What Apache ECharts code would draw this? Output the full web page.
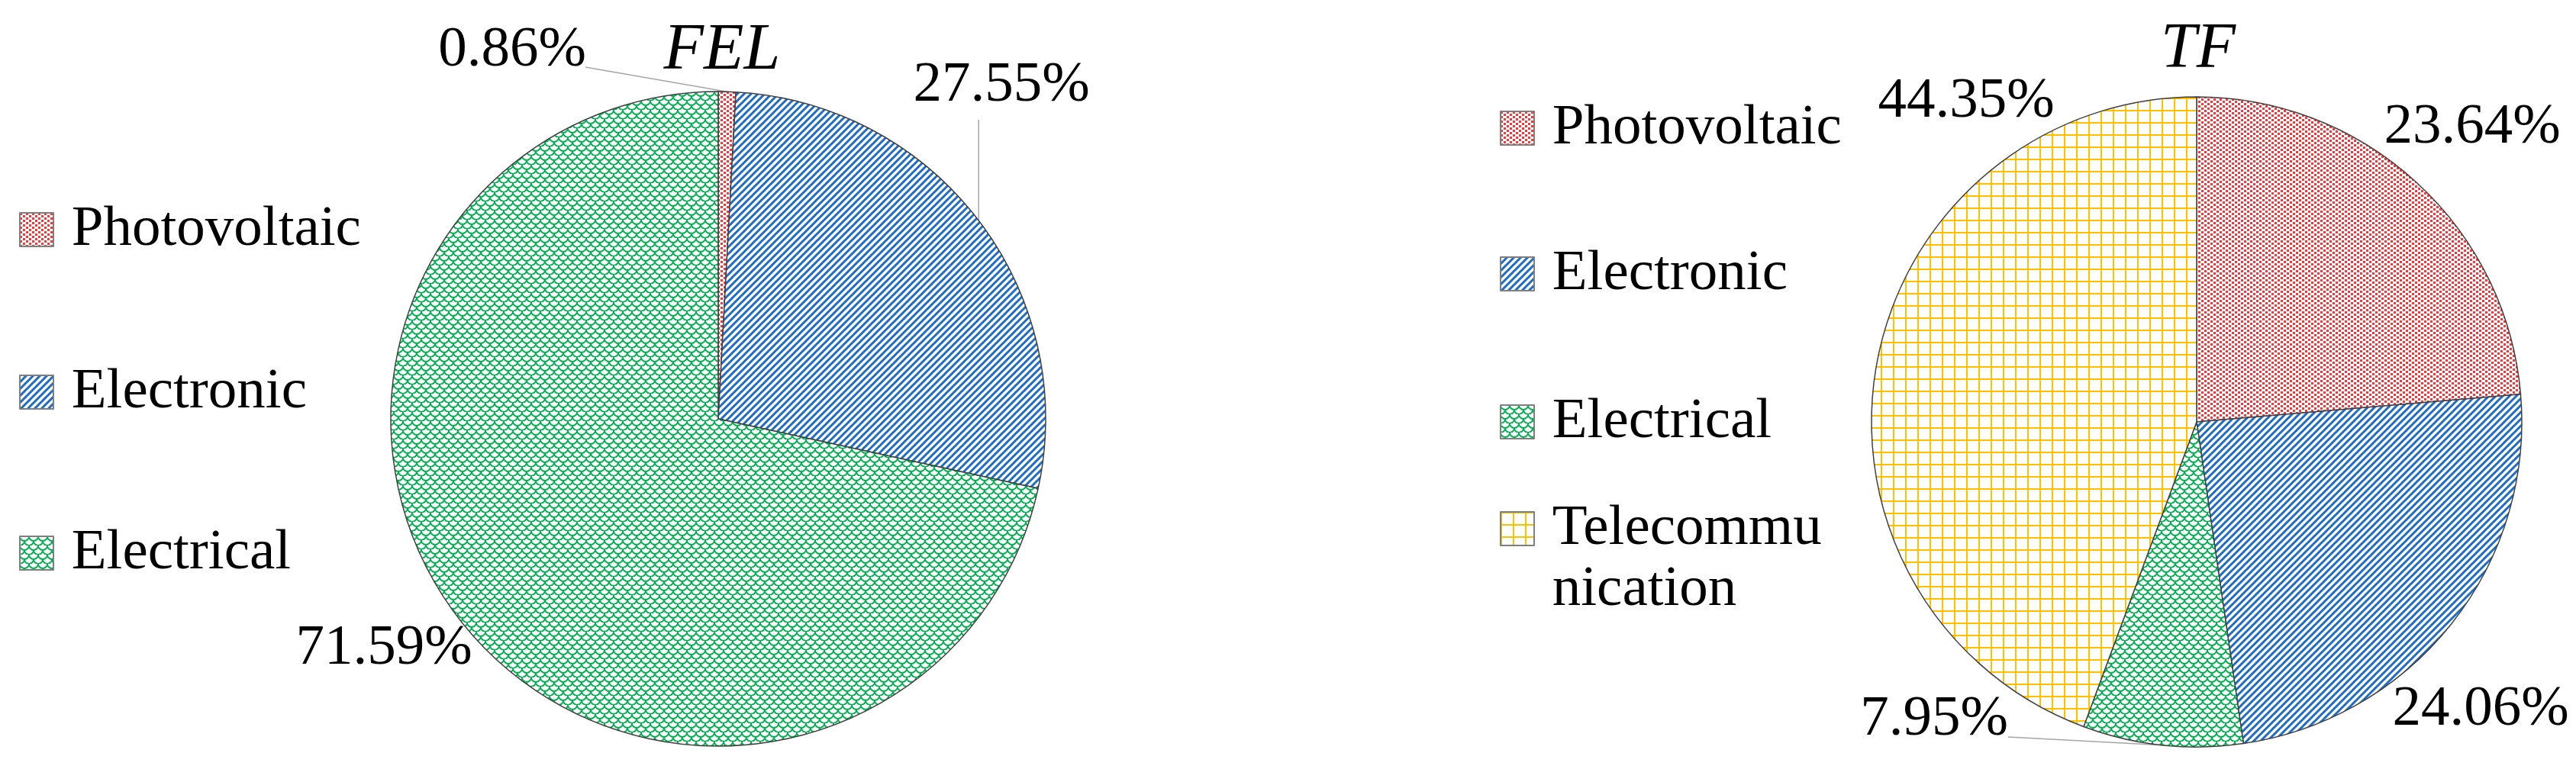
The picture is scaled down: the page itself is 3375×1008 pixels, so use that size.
<!DOCTYPE html>
<html>
<head>
<meta charset="utf-8">
<script src="https://cdn.jsdelivr.net/npm/echarts@6/dist/echarts.min.js"></script>
<style>
html,body{margin:0;padding:0;background:#fff;}
#chart{width:3375px;height:1008px;}
</style>
</head>
<body>
<div id="chart"></div>
<script>
// FEL pie (percent shares)
const felNames = ['Photovoltaic', 'Electronic', 'Electrical'];
const felValues = [0.86, 27.55, 71.59];
// TF pie (percent shares)
const tfNames = ['Photovoltaic', 'Electronic', 'Electrical', 'Telecommunication'];
const tfValues = [23.64, 24.06, 7.95, 44.35];

const FONT = '"Liberation Serif", "Times New Roman", serif';

// hatch fills like the office chart patterns
function makePattern(kind) {
  const c = document.createElement('canvas');
  let ctx;
  if (kind === 'dots') {
    c.width = 8; c.height = 6;
    ctx = c.getContext('2d');
    ctx.fillStyle = '#fff'; ctx.fillRect(0, 0, 8, 6);
    ctx.fillStyle = '#ff3333';
    ctx.fillRect(0, 0, 3, 3);
    ctx.fillRect(4, 3, 3, 3);
  } else if (kind === 'stripes') {
    const T = 9;
    c.width = T; c.height = T;
    ctx = c.getContext('2d');
    ctx.fillStyle = '#fff'; ctx.fillRect(0, 0, T, T);
    ctx.strokeStyle = '#1a6cc8'; ctx.lineWidth = 3;
    ctx.beginPath();
    ctx.moveTo(-2, T + 2); ctx.lineTo(T + 2, -2);
    ctx.moveTo(-2, 2); ctx.lineTo(2, -2);
    ctx.moveTo(T - 2, T + 2); ctx.lineTo(T + 2, T - 2);
    ctx.stroke();
  } else if (kind === 'scales') {
    c.width = 12; c.height = 12;
    ctx = c.getContext('2d');
    ctx.fillStyle = '#fff'; ctx.fillRect(0, 0, 12, 12);
    ctx.strokeStyle = '#00b050'; ctx.lineWidth = 1.8;
    ctx.beginPath(); ctx.arc(6, 0, 6, 0, Math.PI); ctx.stroke();
    ctx.beginPath(); ctx.arc(0, 6, 6, 0, Math.PI); ctx.stroke();
    ctx.beginPath(); ctx.arc(12, 6, 6, 0, Math.PI); ctx.stroke();
  } else {
    c.width = 16; c.height = 16;
    ctx = c.getContext('2d');
    ctx.fillStyle = '#fff'; ctx.fillRect(0, 0, 16, 16);
    ctx.fillStyle = '#ffc000';
    ctx.fillRect(0, 0, 16, 2);
    ctx.fillRect(0, 0, 2, 16);
  }
  return { image: c, repeat: 'repeat' };
}

const fills = {
  'Photovoltaic': makePattern('dots'),
  'Electronic': makePattern('stripes'),
  'Electrical': makePattern('scales'),
  'Telecommunication': makePattern('grid')
};

// label centres and label-line ends (page pixels)
const felLabelPos = [[671, 66], [1312, 112], [503, 850]];
const felLineEnd = [[767, 88], [null, 157], null];
const tfLabelPos = [[3239, 167], [3250, 930], [2534, 943], [2576, 133]];
const tfLineEnd = [null, null, [2631, 966], null];

function buildData(names, values, lineEnd) {
  return names.map((n, i) => ({
    name: n,
    value: values[i],
    itemStyle: { color: fills[n] },
    labelLine: { show: !!lineEnd[i] }
  }));
}

function placeLabels(pos, lineEnd) {
  return function (params) {
    const i = params.dataIndex;
    const out = { x: pos[i][0], y: pos[i][1], align: 'center', verticalAlign: 'middle' };
    if (lineEnd[i] && params.labelLinePoints) {
      const p0 = params.labelLinePoints[0];
      const end = [lineEnd[i][0] == null ? p0[0] : lineEnd[i][0], lineEnd[i][1]];
      out.labelLinePoints = [p0, end, end];
    }
    return out;
  };
}

const pieBase = {
  type: 'pie',
  startAngle: 90,
  clockwise: true,
  avoidLabelOverlap: false,
  selectedMode: false,
  silent: true,
  itemStyle: { borderColor: '#404040', borderWidth: 1.5 },
  label: {
    show: true,
    position: 'outside',
    formatter: p => p.value.toFixed(2) + '%',
    fontFamily: FONT,
    fontSize: 75,
    color: '#000'
  },
  labelLine: { show: true, lineStyle: { color: '#a6a6a6', width: 1.5 } }
};

function legendItem(name, left, centerY, twoLine) {
  const lh = twoLine ? 80 : 93;
  return {
    data: [name],
    left: left,
    top: twoLine ? centerY - 1.5 * lh : centerY - lh / 2,
    orient: 'vertical',
    padding: 0,
    icon: 'rect',
    itemWidth: 44,
    itemHeight: 44,
    itemGap: 0,
    selectedMode: false,
    itemStyle: { borderColor: '#7f7f7f', borderWidth: 2 },
    // leading blank line keeps the first text line level with the icon
    formatter: twoLine ? () => '\n Telecommu\n nication' : n => ' ' + n,
    textStyle: { fontFamily: FONT, fontSize: 75, color: '#000', lineHeight: lh }
  };
}

const felLegendY = [301, 514, 725];
const tfLegendY = [168, 359, 553, 693];

const legends = felNames.map((n, i) => legendItem(n, 25, felLegendY[i], false))
  .concat(tfNames.map((n, i) => legendItem(n, 1965, tfLegendY[i], n === 'Telecommunication')));

const chart = echarts.init(document.getElementById('chart'), null, { renderer: 'canvas' });
chart.setOption({
  backgroundColor: '#fff',
  animation: false,
  title: [
    { text: 'FEL', left: 946, top: 24, textAlign: 'center', padding: 0,
      textStyle: { fontFamily: FONT, fontStyle: 'italic', fontWeight: 'normal', fontSize: 86, color: '#000' } },
    { text: 'TF', left: 2880, top: 24, textAlign: 'center', padding: 0,
      textStyle: { fontFamily: FONT, fontStyle: 'italic', fontWeight: 'normal', fontSize: 84, color: '#000' } }
  ],
  legend: legends,
  series: [
    Object.assign({}, pieBase, {
      name: 'FEL',
      center: [941, 549],
      radius: 429,
      data: buildData(felNames, felValues, felLineEnd),
      labelLayout: placeLabels(felLabelPos, felLineEnd)
    }),
    Object.assign({}, pieBase, {
      name: 'TF',
      center: [2878, 553],
      radius: 426,
      data: buildData(tfNames, tfValues, tfLineEnd),
      labelLayout: placeLabels(tfLabelPos, tfLineEnd)
    })
  ]
});
</script>
</body>
</html>
